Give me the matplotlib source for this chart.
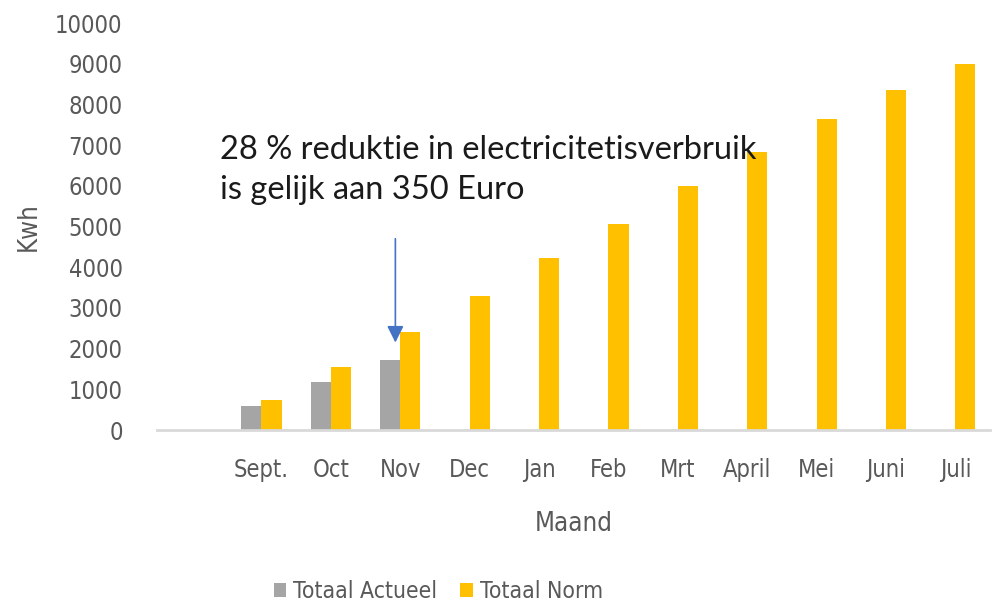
import matplotlib
matplotlib.use('Agg')
import matplotlib.pyplot as plt
import numpy as np

# data (first slot is an empty category, as in the source chart)
months = ['', 'Sept.', 'Oct', 'Nov', 'Dec', 'Jan', 'Feb', 'Mrt', 'April', 'Mei', 'Juni', 'Juli']
actueel = [np.nan, 580, 1170, 1720, np.nan, np.nan, np.nan, np.nan, np.nan, np.nan, np.nan, np.nan]
norm = [np.nan, 735, 1550, 2405, 3295, 4220, 5065, 6000, 6830, 7630, 8360, 8995]

GRAY = '#A5A5A5'
YELLOW = '#FFC000'
TXT = '#595959'
FONT = dict(family='DejaVu Sans', stretch='condensed')

fig = plt.figure(figsize=(9.96, 6.01), dpi=100)
ax = fig.add_axes([0.158, 0.2845, 0.836, 0.6772])

x = np.arange(len(months))
w = 0.29
ax.bar(x - w / 2, actueel, w, color=GRAY, label='Totaal Actueel')
ax.bar(x + w / 2, norm, w, color=YELLOW, label='Totaal Norm')

ax.set_xlim(-0.5, len(months) - 0.5)
ax.set_ylim(0, 10000)
ax.set_yticks(np.arange(0, 10001, 1000))
ax.set_xticks(x)
ax.set_xticklabels(months, fontsize=17, color=TXT, **FONT)
for lab in ax.get_yticklabels():
    lab.set_family(FONT['family'])
    lab.set_stretch(FONT['stretch'])
    lab.set_fontsize(17)
    lab.set_color(TXT)
ax.tick_params(length=0)
ax.tick_params(axis='x', pad=20)
ax.tick_params(axis='y', pad=25)

for s in ['top', 'right', 'left']:
    ax.spines[s].set_visible(False)
ax.spines['bottom'].set_color('#D9D9D9')
ax.spines['bottom'].set_linewidth(2)

ax.set_xlabel('Maand', fontsize=18.5, color=TXT, labelpad=21, **FONT)
ax.set_ylabel('Kwh', fontsize=18.5, color=TXT, labelpad=10, **FONT)

# annotation
ax.text(0.4, 6390, '28 % reduktie in electricitetisverbruik\nis gelijk aan 350 Euro',
        fontsize=23.5, color='#1a1a1a', family=['Lato', 'DejaVu Sans'],
        linespacing=1.38, va='center', ha='left')
ax.annotate('', xy=(2.93, 2150), xytext=(2.93, 4700),
            arrowprops=dict(arrowstyle='-|>', color='#4472C4', lw=1.2,
                            mutation_scale=25, shrinkA=0, shrinkB=0))

leg = fig.legend(loc='center', bbox_to_anchor=(0.44, 0.016), ncol=2, frameon=False,
                 prop={'family': 'DejaVu Sans', 'stretch': 'condensed', 'size': 16.5},
                 handlelength=0.55, handleheight=0.55,
                 handletextpad=0.3, columnspacing=1.0)
for t in leg.get_texts():
    t.set_color(TXT)

fig.savefig('out.png', dpi=100)
